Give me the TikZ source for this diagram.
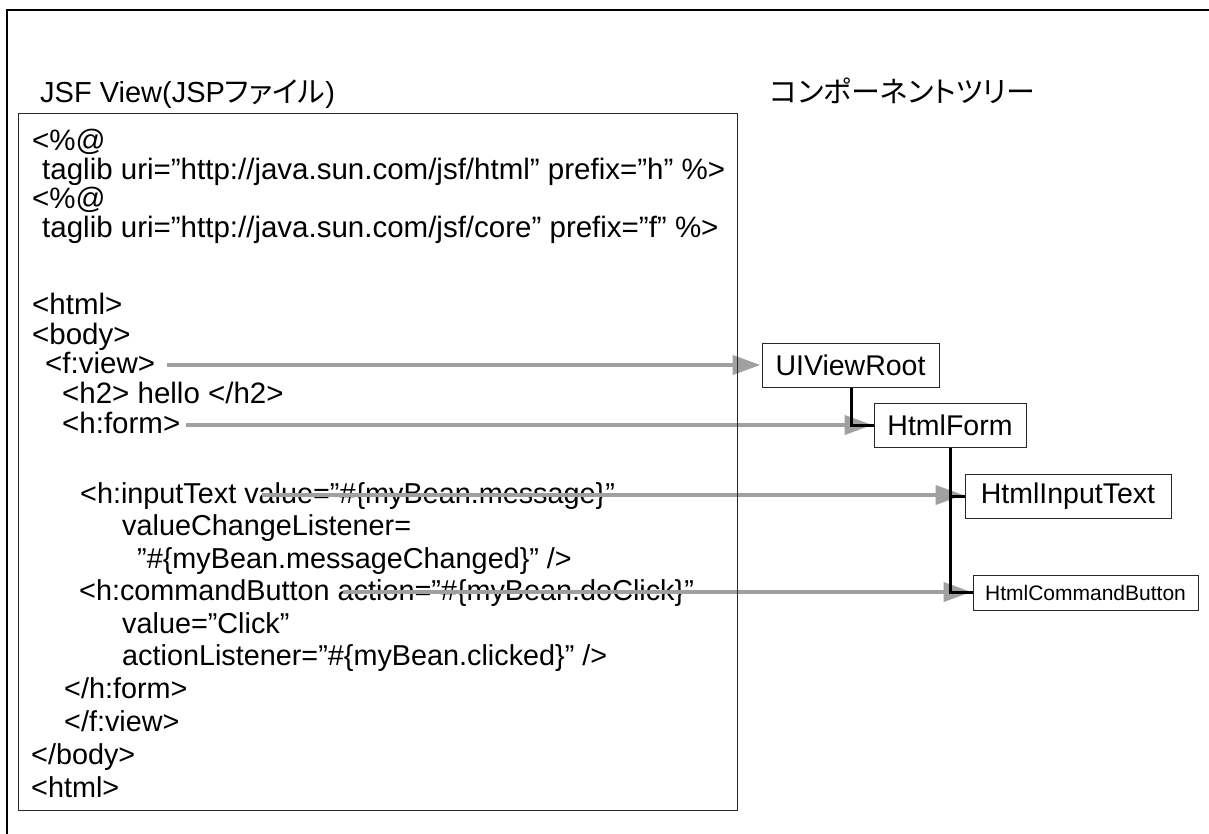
\documentclass[tikz,border=0pt]{standalone}
\usepackage{fontspec}
\setmainfont{Liberation Sans}
\newfontfamily\jp[RawFeature=+palt]{Noto Sans CJK JP}
\usetikzlibrary{arrows.meta}
\definecolor{arrowgray}{RGB}{160,160,160}
\definecolor{framegray}{RGB}{40,40,40}
\tikzset{
  code/.style={anchor=base west, inner sep=0pt, font=\fontsize{29.5}{31}\selectfont},
  codesm/.style={code, font=\fontsize{28.8}{31}\selectfont},
  caption/.style={anchor=base west, inner sep=0pt, font=\fontsize{29}{31}\selectfont},
  treebox/.style={draw=framegray, line width=1pt, inner sep=0pt, font=\fontsize{28.5}{30}\selectfont},
  maparrow/.style={draw=arrowgray, line width=4pt, -{Triangle[length=28pt,width=19pt]}, shorten >=1pt},
  treeline/.style={draw=black, line width=3pt},
}
\begin{document}
\begin{tikzpicture}[x=1pt, y=-1pt]
\useasboundingbox (0,0) rectangle (1209,834);
% outer frame (only its top and left edges fall inside the page)
\draw[line width=2pt] (7,836) -- (7,10) -- (1211,10);

% captions
\node[caption] (ttl) at (40,103) {JSF View(JSP{\jp ファイル})};
\node[caption] (tree) at (770,103) {\jp コンポーネントツリー};

% JSP source lines
\node[code] (l1)  at (32,151) {<\%@};
\node[code] (l2)  at (42,180) {taglib uri=”http://java.sun.com/jsf/html” prefix=”h” \%>};
\node[code] (l3)  at (32,209) {<\%@};
\node[code] (l4)  at (42,238) {taglib uri=”http://java.sun.com/jsf/core” prefix=”f” \%>};
\node[code] (l5)  at (32,314) {<html>};
\node[code] (l6)  at (32,344) {<body>};
\node[code] (l7)  at (45,373) {<f:view>};
\node[code] (l8)  at (62,403) {<h2> hello </h2>};
\node[code] (l9)  at (62,433) {<h:form>};
\node[codesm] (l10) at (80,503) {<h:inputText value=”\#\{myBean.message\}”};
\node[codesm] (l11) at (122,535) {valueChangeListener=};
\node[codesm] (l12) at (137,568) {”\#\{myBean.messageChanged\}” />};
\node[codesm] (l13) at (79,600) {<h:commandButton action=”\#\{myBean.doClick\}”};
\node[codesm] (l14) at (122,633) {value=”Click”};
\node[codesm] (l15) at (122,665) {actionListener=”\#\{myBean.clicked\}” />};
\node[codesm] (l16) at (64,698) {</h:form>};
\node[codesm] (l17) at (64,731) {</f:view>};
\node[codesm] (l18) at (31,764) {</body>};
\node[codesm] (l19) at (31,797) {<html>};

% component tree
\node[treebox, minimum width=177pt, minimum height=44pt] (root) at (850.5,365) {UIViewRoot};
\node[treebox, minimum width=152pt, minimum height=44pt] (form) at (950,425) {HtmlForm};
\node[treebox, minimum width=206pt, minimum height=44pt] (input) at (1068,496) {HtmlInputText};
\node[treebox, minimum width=225pt, minimum height=35pt, font=\fontsize{21}{23}\selectfont] (button) at (1085.5,592.5) {HtmlCommandButton};

% start points of the mapping arrows
\coordinate (s1) at (167,365);
\coordinate (s2) at (186,425);
\coordinate (s3) at (262,495);
\coordinate (s4) at (343,592);

\draw[maparrow] (s1) -- (root.west);
\draw[maparrow] (s2) -- (form.west);
\draw[maparrow] (s3) -- (input.west |- s3);
\draw[maparrow] (s4) -- (button.west |- s4);

% tree connectors
\draw[treeline] (root.south -| 851,0) |- (form.west);
\draw[treeline] (form.south) -- (form.south |- button.west) -- (button.west);
\draw[treeline] (form.south |- input.west) -- (input.west);

% source file frame
\draw[draw=framegray, line width=1pt] (18,114) rectangle (737,810);
\end{tikzpicture}
\end{document}
